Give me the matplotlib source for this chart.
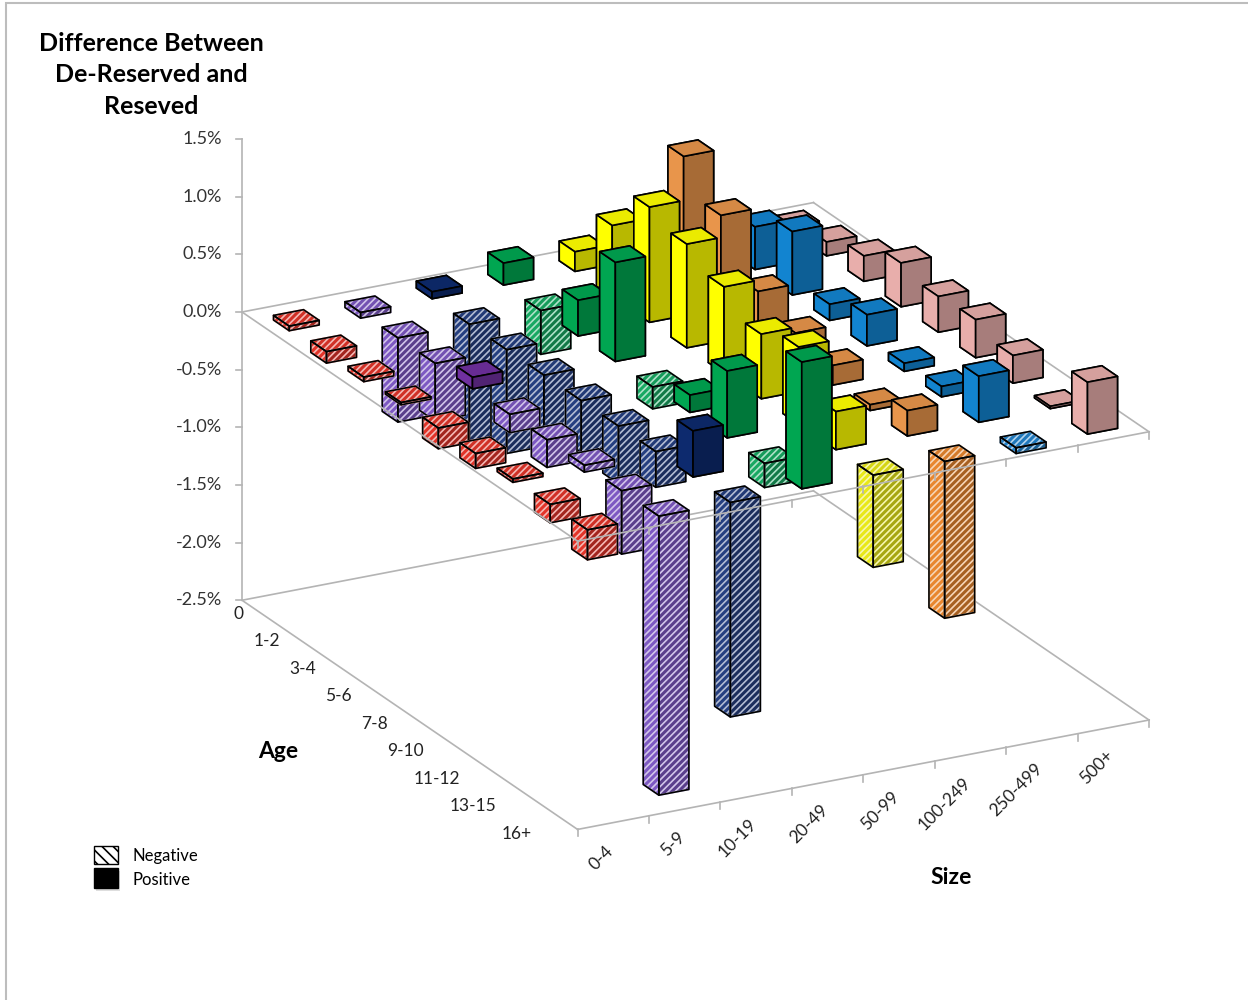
import numpy as np
import matplotlib
matplotlib.use("Agg")
import matplotlib.pyplot as plt
from matplotlib.colors import to_rgb
from matplotlib.patches import Rectangle
from matplotlib.lines import Line2D
from mpl_toolkits.mplot3d import proj3d
from mpl_toolkits.mplot3d.art3d import Poly3DCollection

plt.rcParams["font.family"] = ["Lato", "DejaVu Sans"]
plt.rcParams["hatch.linewidth"] = 1.2

ages = ["0", "1-2", "3-4", "5-6", "7-8", "9-10", "11-12", "13-15", "16+"]
sizes = ["0-4", "5-9", "10-19", "20-49", "50-99", "100-249", "250-499", "500+"]

# difference (%) for each size class, one value per age class (0 ... 16+)
d_0_4 = [-0.04, -0.10, -0.04, -0.02, -0.18, -0.13, -0.03, -0.16, -0.26]
d_5_9 = [-0.05, -0.73, -0.50, 0.10, -0.16, -0.24, -0.06, -0.55, -2.42]
d_10_19 = [0.06, -1.05, -0.90, -0.55, -0.45, -0.50, -0.31, 0.40, -1.86]
d_20_49 = [0.19, -0.38, 0.31, 0.86, -0.19, 0.15, 0.58, -0.21, 1.10]
d_50_99 = [0.17, 0.62, 1.00, 0.90, 0.75, 0.56, 0.67, 0.33, -0.80]
d_100_249 = [0.20, 1.10, 0.81, 0.37, 0.23, 0.17, 0.05, 0.22, -1.36]
d_250_499 = [0.15, 0.37, 0.55, 0.14, 0.27, 0.07, 0.09, 0.40, -0.05]
d_500p = [0.03, 0.12, 0.22, 0.38, 0.31, 0.33, 0.24, 0.02, 0.45]
columns = [d_0_4, d_5_9, d_10_19, d_20_49, d_50_99, d_100_249, d_250_499, d_500p]

z_ticks = [-2.5, -2.0, -1.5, -1.0, -0.5, 0.0, 0.5, 1.0, 1.5]

pos_colors = ["#e8423a", "#7030a0", "#0d2a6e", "#00a651", "#ffff00", "#e8954b", "#1284d0", "#e8aeab"]
neg_colors = ["#e23429", "#7d58c2", "#253f80", "#17a862", "#e8e818", "#e8862e", "#2282cc", "#e8aeab"]

W, H = 1248, 1000
ELEV, AZIM = 21.2, -27.9
BOX = (1.109, 1.0, 0.765)
GREY = "#b4b4b4"

fig = plt.figure(figsize=(W / 100, H / 100), dpi=100)
fig.patch.set_facecolor("white")
ax = fig.add_axes([-0.3, -0.3, 1.6, 1.6], projection="3d", computed_zorder=False)
ax.set_proj_type("ortho")
ax.view_init(elev=ELEV, azim=AZIM)
ax.set_box_aspect(BOX)
ax.set_xlim(0, 9)
ax.set_ylim(0, 8)
ax.set_zlim(-2.5, 1.5)
ax.set_axis_off()


def face_colors(hexc):
    c = np.array(to_rgb(hexc))
    dark = c * 0.6
    # order used by bar3d: -z, +z, -y, +y, -x, +x
    return [dark, c * 0.92, c, dark, dark, c * 0.72]


bw = 0.42
ca, sa = np.cos(np.radians(AZIM)), np.sin(np.radians(AZIM))
for j, vals in enumerate(columns):
    for i, v in enumerate(vals):
        neg = v < 0
        base = neg_colors[j] if neg else pos_colors[j]
        z0, h = (v, -v) if neg else (0.0, v)
        x0, y0 = i + 0.5 - bw / 2, j + 0.5 - bw / 2
        depth = (i + 0.5) / 9 * BOX[0] * ca + (j + 0.5) / 8 * BOX[1] * sa
        zo = 20 + 10 * depth
        # hatch takes the edge colour, so hatched bars get pale tinted edges
        # and a black outline of their visible faces on top
        tint = 0.35 * np.array(to_rgb(base)) + 0.65
        col = ax.bar3d(x0, y0, z0, bw, bw, h, color=face_colors(base), shade=False,
                       edgecolor=tint if neg else "black", linewidth=1.2,
                       hatch="/////" if neg else None)
        col.set_zorder(zo)
        if neg:
            x1, y1, zt = x0 + bw, y0 + bw, z0 + h
            faces = [[(x0, y0, zt), (x1, y0, zt), (x1, y1, zt), (x0, y1, zt)],
                     [(x0, y0, z0), (x1, y0, z0), (x1, y0, zt), (x0, y0, zt)],
                     [(x1, y0, z0), (x1, y1, z0), (x1, y1, zt), (x1, y0, zt)]]
            outline = Poly3DCollection(faces, facecolors=(0, 0, 0, 0),
                                       edgecolors="black", linewidths=1.2)
            ax.add_collection3d(outline)
            outline.set_zorder(zo + 0.001)

# zero plane and floor outlines
for zl in (0.0, -2.5):
    ax.plot([0, 0], [0, 8], [zl, zl], color=GREY, lw=1.2, zorder=1)
    ax.plot([0, 9], [8, 8], [zl, zl], color=GREY, lw=1.2, zorder=1)
    ax.plot([9, 9], [0, 8], [zl, zl], color=GREY, lw=1.2, zorder=100)
    ax.plot([0, 9], [0, 0], [zl, zl], color=GREY, lw=1.2, zorder=100)
    for k in range(9):
        ax.plot([9, 9], [k, k], [zl, zl - 0.06], color=GREY, lw=1.2, zorder=100)
ax.plot([0, 0], [0, 0], [-2.5, 1.5], color=GREY, lw=1.2, zorder=100)


def px(x, y, z):
    xs, ys, _ = proj3d.proj_transform(np.atleast_1d(np.asarray(x, float)),
                                      np.atleast_1d(np.asarray(y, float)),
                                      np.atleast_1d(np.asarray(z, float)),
                                      ax.get_proj())
    return ax.transData.transform(np.column_stack([xs, ys]))


# fit the projected chart onto the reference frame
target = np.array([[242, H - 312], [1149, H - 432]])
zoom = 1.0
for _ in range(2):
    fig.canvas.draw()
    p = px([0, 9], [0, 8], [0, 0])
    zoom *= np.linalg.norm(target[1] - target[0]) / np.linalg.norm(p[1] - p[0])
    ax.set_box_aspect(BOX, zoom=zoom)
    fig.canvas.draw()
    shift = target[0] - px(0, 0, 0)[0]
    pos = ax.get_position(original=True)
    ax.set_position([pos.x0 + shift[0] / W, pos.y0 + shift[1] / H, pos.width, pos.height])
fig.canvas.draw()

# value axis labels and ticks
for z in z_ticks:
    x, y = px(0, 0, z)[0]
    fig.add_artist(Line2D([(x - 6) / W, x / W], [y / H, y / H], color=GREY, lw=1.2))
    fig.text((x - 20) / W, y / H, f"{z:.1f}%", ha="right", va="center", fontsize=13, color="#333333")

for i, lab in enumerate(ages):
    x, y = px(i + 0.5, 0, -2.5)[0]
    fig.text((x - 17 - 1.25 * i) / W, (y - 1 - 2 * i) / H, lab, ha="right", va="center",
             fontsize=12.5, color="#222222")

for j, lab in enumerate(sizes):
    x, y = px(9, j + 0.5, -2.5)[0]
    fig.text((x - 2) / W, (y - 26) / H, lab, ha="right", va="center", rotation=45,
             rotation_mode="anchor", fontsize=12.5, color="#222222")

fig.text(278 / W, 1 - 752 / H, "Age", ha="center", va="center", fontsize=16.5, fontweight="bold")
fig.text(951 / W, 1 - 877 / H, "Size", ha="center", va="center", fontsize=16.5, fontweight="bold")
fig.text(151 / W, 1 - 75 / H, "Difference Between\nDe-Reserved and\nReseved", ha="center",
         va="center", multialignment="center", fontsize=18, fontweight="bold", linespacing=1.47)

# legend
fig.add_artist(Rectangle((94 / W, 1 - 864 / H), 24 / W, 18 / H, facecolor="white",
                         edgecolor="black", hatch="\\\\\\", lw=1.0))
fig.add_artist(Rectangle((96 / W, 1 - 891 / H), 24 / W, 20 / H, facecolor="#c8c8c8",
                         edgecolor="none", alpha=0.6))
fig.add_artist(Rectangle((94 / W, 1 - 888 / H), 24 / W, 20 / H, facecolor="black",
                         edgecolor="black", lw=1.0))
fig.text(133 / W, 1 - 856 / H, "Negative", ha="left", va="center", fontsize=12)
fig.text(133 / W, 1 - 880 / H, "Positive", ha="left", va="center", fontsize=12)

# chart area border
fig.add_artist(Rectangle((6 / W, -0.01), 1.2, 1 - 3 / H + 0.01, fill=False,
                         edgecolor="#bdbdbd", lw=1.5))

fig.savefig("out.png", dpi=100, facecolor="white")
